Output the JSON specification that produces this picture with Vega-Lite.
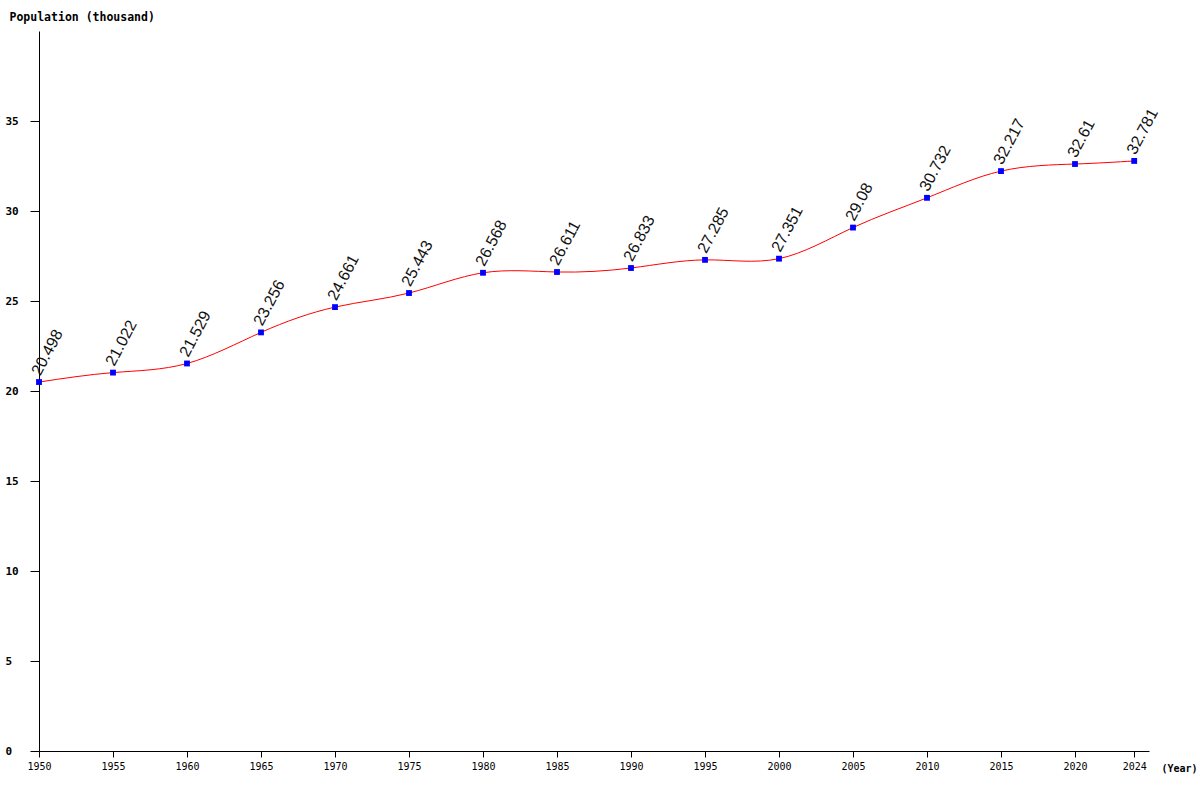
{
  "$schema": "https://vega.github.io/schema/vega-lite/v6.json",
  "width": 1110,
  "height": 720,
  "autosize": {"type": "none"},
  "padding": {"left": 39, "top": 31, "right": 51, "bottom": 49},
  "background": "white",
  "config": {"view": {"stroke": null}},
  "data": {"values": [
    {"year": 1950, "pop": 20.498},
    {"year": 1955, "pop": 21.022},
    {"year": 1960, "pop": 21.529},
    {"year": 1965, "pop": 23.256},
    {"year": 1970, "pop": 24.661},
    {"year": 1975, "pop": 25.443},
    {"year": 1980, "pop": 26.568},
    {"year": 1985, "pop": 26.611},
    {"year": 1990, "pop": 26.833},
    {"year": 1995, "pop": 27.285},
    {"year": 2000, "pop": 27.351},
    {"year": 2005, "pop": 29.08},
    {"year": 2010, "pop": 30.732},
    {"year": 2015, "pop": 32.217},
    {"year": 2020, "pop": 32.61},
    {"year": 2024, "pop": 32.781}
  ]},
  "encoding": {
    "x": {
      "field": "year", "type": "quantitative",
      "scale": {"domain": [1950, 2025], "nice": false, "zero": false},
      "axis": {
        "values": [1950, 1955, 1960, 1965, 1970, 1975, 1980, 1985, 1990, 1995, 2000, 2005, 2010, 2015, 2020, 2024],
        "format": "d", "grid": false, "domainColor": "black", "tickColor": "black", "tickSize": 6,
        "labelFont": "DejaVu Sans Mono", "labelFontSize": 10, "labelColor": "black", "labelPadding": 4,
        "labelFlush": false, "labelOverlap": false,
        "title": "(Year)", "titleFont": "DejaVu Sans Mono", "titleFontSize": 10, "titleFontWeight": "bold",
        "titleColor": "black", "titleX": 1122, "titleY": 20, "titleAlign": "left", "titleBaseline": "alphabetic"
      }
    },
    "y": {
      "field": "pop", "type": "quantitative",
      "scale": {"domain": [0, 40], "nice": false},
      "axis": {
        "values": [0, 5, 10, 15, 20, 25, 30, 35],
        "grid": false, "domainColor": "black", "tickColor": "black", "tickSize": 9,
        "labelFont": "DejaVu Sans Mono", "labelFontSize": 11, "labelFontWeight": "bold", "labelColor": "black",
        "labelAlign": "left", "labelPadding": 25, "labelBaseline": "middle",
        "title": "Population (thousand)", "titleFont": "DejaVu Sans Mono", "titleFontSize": 11.5, "titleFontWeight": "bold",
        "titleColor": "black", "titleAngle": 0, "titleX": -30, "titleY": -11, "titleAlign": "left", "titleBaseline": "alphabetic"
      }
    }
  },
  "layer": [
    {"mark": {"type": "line", "color": "#ff0000", "strokeWidth": 1, "interpolate": "natural"}},
    {"mark": {"type": "point", "shape": "square", "filled": true, "color": "#0000ff", "size": 34, "opacity": 1}},
    {
      "mark": {"type": "text", "angle": -62, "align": "left", "baseline": "alphabetic", "dx": 5.5, "dy": -1.5,
               "font": "Liberation Sans", "fontSize": 16, "color": "#111111"},
      "encoding": {"text": {"field": "pop", "type": "nominal"}}
    }
  ]
}
